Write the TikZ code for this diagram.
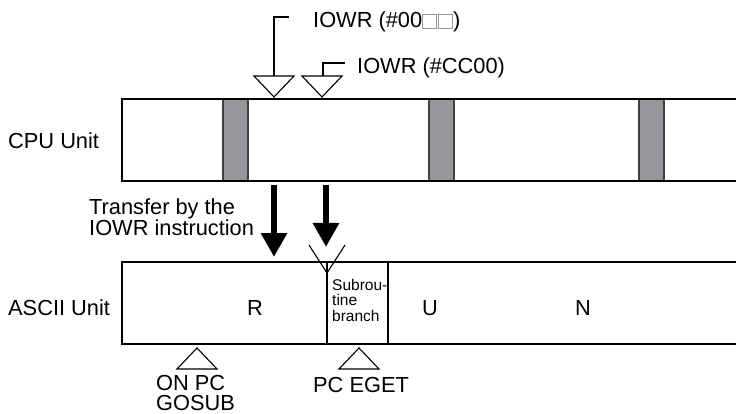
\documentclass[tikz,border=0pt]{standalone}
\usepackage{fontspec}
\setmainfont{Liberation Sans}
\usetikzlibrary{arrows.meta}
\definecolor{barfill}{RGB}{150,150,155}
\definecolor{blankgray}{RGB}{150,150,150}
\newcommand{\blankbox}{\textcolor{blankgray}{\fboxsep=0pt\fboxrule=1pt\fbox{\phantom{\rule{13pt}{13pt}}}}}

\begin{document}
\begin{tikzpicture}[x=1pt, y=-1pt,
    unitbox/.style={line width=2.6pt},
    bar/.style={draw=black!75, line width=1.2pt, fill=barfill},
    fine/.style={line width=1.1pt},
    marker/.style={draw, line width=1.1pt, fill=white, line join=miter},
    lbl/.style={font=\fontsize{21.8}{20.5}\selectfont, inner sep=0pt},
    sublbl/.style={font=\fontsize{15.5}{15.5}\selectfont, inner sep=0pt, align=left},
    xfer/.style={line width=6pt, -{Triangle[width=25pt, length=24pt]}}
]
\useasboundingbox (0,0) rectangle (736,414);

% === CPU Unit ===
\foreach \x in {223, 429, 639}
    \draw[bar] (\x,99) rectangle ++(25,82);
\draw[unitbox] (736,99) -| (122,181) -- (736,181);
\node[lbl, anchor=base west] (cpu) at (8,149) {CPU Unit};

% === IOWR markers ===
\foreach \x/\n in {274/t1, 322/t2} {
    \draw[marker] (\x-20,76) -- (\x+20,76) -- (\x,97) -- cycle;
    \coordinate (\n) at (\x,76);
}
\coordinate (l1) at (289,17);
\coordinate (l2) at (345,63);
\draw[fine] (t1) |- (l1);
\draw[fine] ([xshift=1pt]t2) |- (l2);
\node[lbl, anchor=base west] (iowr1) at (313,28) {IOWR (\#00\blankbox\kern1pt\blankbox)};
\node[lbl, anchor=base west] (iowr2) at (357,74) {IOWR (\#CC00)};

% === Transfer ===
\coordinate (x1s) at (274,185);
\coordinate (x1e) at (274,257);
\coordinate (x2s) at (326,185);
\coordinate (x2e) at (326,247);
\draw[xfer] (x1s) -- (x1e);
\draw[xfer] (x2s) -- (x2e);
\node[lbl, align=left, anchor=north west] (xferlbl) at (89,199) {Transfer by the\\IOWR instruction};

% === ASCII Unit ===
\draw[unitbox] (736,262) -| (122,344) -- (736,344);
\coordinate (s1) at (327,262);
\coordinate (s2) at (388,262);
\draw[fine] (s1) -- ++(0,82);
\draw[fine] (s2) -- ++(0,82);
\coordinate (v) at (327,273);
\draw[fine] (309,245) -- (v) -- (345,245);
\node[lbl, anchor=base west] (ascii) at (8,315) {ASCII Unit};
\node[lbl, anchor=base] (r) at (255,315) {R};
\node[sublbl, anchor=north west] (sub) at (332,279) {Subrou-\\tine\\branch};
\node[lbl, anchor=base] (u) at (430,315) {U};
\node[lbl, anchor=base] (n) at (583,315) {N};

% === Branch markers ===
\foreach \x in {197, 359}
    \draw[marker] (\x,348) -- (\x+20,369) -- (\x-20,369) -- cycle;
\node[lbl, align=left, anchor=north west, font=\fontsize{21.8}{20}\selectfont] (gosub) at (156,375) {ON PC\\GOSUB};
\node[lbl, anchor=base west] (eget) at (313,392) {PC EGET};

\end{tikzpicture}
\end{document}
